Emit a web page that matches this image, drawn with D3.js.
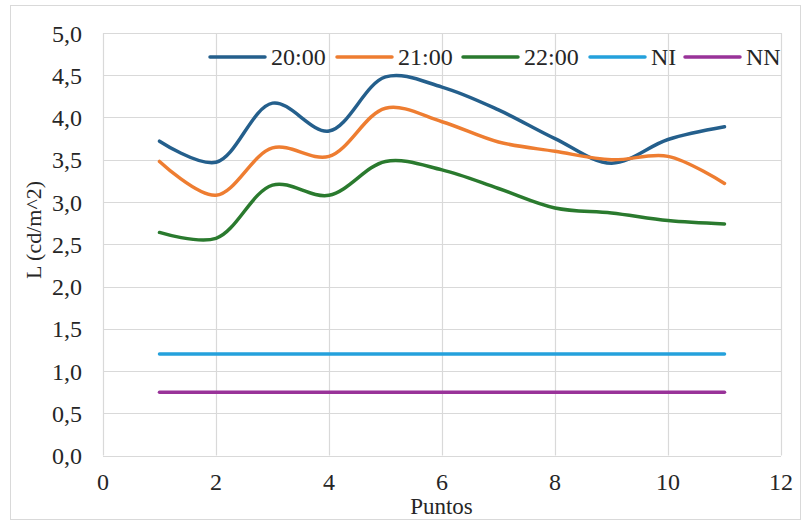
<!DOCTYPE html>
<html><head><meta charset="utf-8">
<script src="https://cdn.jsdelivr.net/npm/d3@7"></script>
<style>body{margin:0;background:#fff}svg{display:block}</style>
</head><body><svg id="c" width="802" height="521"></svg>
<script>
const points = [1,2,3,4,5,6,7,8,9,10,11];
const s2000 = [3.72,3.47,4.17,3.84,4.48,4.36,4.09,3.75,3.46,3.74,3.89];
const s2100 = [3.48,3.08,3.64,3.54,4.11,3.95,3.71,3.60,3.50,3.54,3.22];
const s2200 = [2.64,2.57,3.20,3.08,3.48,3.38,3.16,2.93,2.87,2.78,2.74];
const sNI = [1.2,1.2,1.2,1.2,1.2,1.2,1.2,1.2,1.2,1.2,1.2];
const sNN = [0.75,0.75,0.75,0.75,0.75,0.75,0.75,0.75,0.75,0.75,0.75];
const seriesNames = ["20:00","21:00","22:00","NI","NN"];
const seriesColors = ["#245f8c","#ee7d31","#2a7a2e","#24a1dc","#993399"];
const xTicks = [0,2,4,6,8,10,12];
const yTicks = [0,0.5,1,1.5,2,2.5,3,3.5,4,4.5,5];

const FONT = "'Liberation Serif','Times New Roman',serif";
const allSeries = [s2000,s2100,s2200,sNI,sNN];
const svg = d3.select("#c");
const L=103,R=781,T=33,B=455.5;
const x = d3.scaleLinear().domain([0,12]).range([L,R]);
const y = d3.scaleLinear().domain([0,5]).range([B,T]);

svg.append("rect").attr("x",10.5).attr("y",5.5).attr("width",790).attr("height",514).attr("fill","#fff").attr("stroke","#d9d9d9");

const g = svg.append("g");
g.selectAll(".hg").data(yTicks).join("line").attr("x1",L).attr("x2",R)
 .attr("y1",d=>Math.round(y(d))+0.5).attr("y2",d=>Math.round(y(d))+0.5).attr("stroke","#d9d9d9").attr("stroke-width",1.2);
g.selectAll(".vg").data(xTicks).join("line").attr("y1",T).attr("y2",B)
 .attr("x1",d=>Math.round(x(d))+0.5).attr("x2",d=>Math.round(x(d))+0.5).attr("stroke","#d9d9d9").attr("stroke-width",1.2);

const fmt = d=>d.toFixed(1).replace(".",",");
svg.selectAll(".yl").data(yTicks).join("text").attr("x",82).attr("y",d=>y(d)+8.5)
 .attr("text-anchor","end").attr("font-family",FONT).attr("font-size",24).attr("fill","#262626").text(fmt);
svg.selectAll(".xl").data(xTicks).join("text").attr("x",d=>x(d)).attr("y",490)
 .attr("text-anchor","middle").attr("font-family",FONT).attr("font-size",24).attr("fill","#262626").text(d=>d);

svg.append("text").attr("x",441.5).attr("y",514).attr("text-anchor","middle").attr("font-family",FONT).attr("font-size",23).attr("fill","#262626").text("Puntos");
svg.append("text").attr("transform","translate(41,230) rotate(-90)").attr("text-anchor","middle").attr("font-family",FONT).attr("font-size",22).attr("fill","#262626").text("L (cd/m^2)");

const line = d3.line().x((d,i)=>x(points[i])).y(d=>y(d)).curve(d3.curveCatmullRom.alpha(0.5));
allSeries.forEach((s,k)=>{
  svg.append("path").attr("d",line(s)).attr("fill","none").attr("stroke",seriesColors[k])
   .attr("stroke-width",3.5).attr("stroke-linecap","round");
});

// legend
const legX = [210,337,463,590,685];
const lg = svg.append("g");
seriesNames.forEach((n,k)=>{
  lg.append("line").attr("x1",legX[k]).attr("x2",legX[k]+55).attr("y1",57).attr("y2",57)
   .attr("stroke",seriesColors[k]).attr("stroke-width",3.5).attr("stroke-linecap","round");
  lg.append("text").attr("x",legX[k]+61).attr("y",64.5).attr("font-family",FONT).attr("font-size",24).attr("fill","#262626").text(n);
});
</script></body></html>
